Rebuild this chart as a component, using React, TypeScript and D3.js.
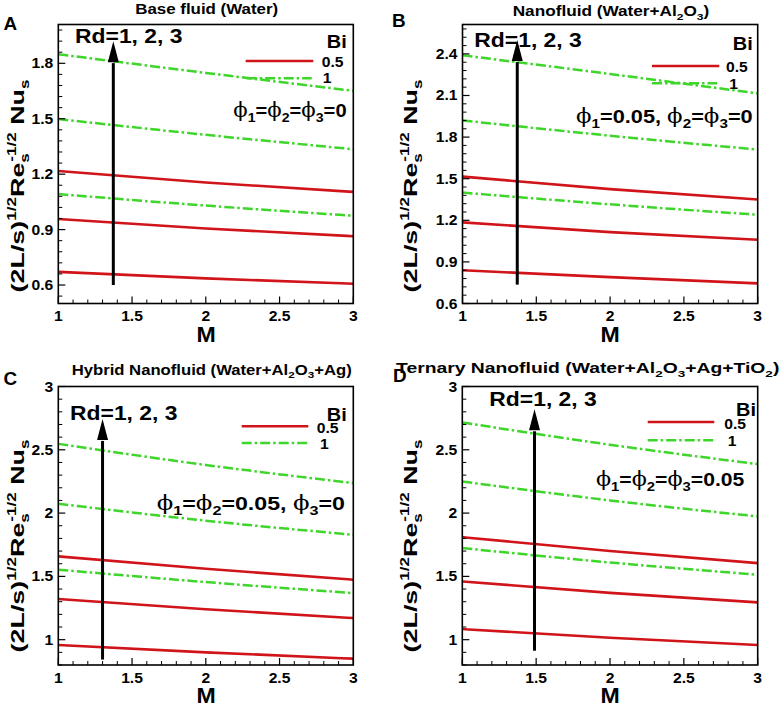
import React from 'react';
import * as d3 from 'd3';

// ---------- data ----------
const M_VALUES = [1, 2, 3];
const BI_LABELS = ['0.5', '1'];
const PANEL_LETTERS = ['A', 'B', 'C', 'D'];
const TITLES = [
  'Base fluid (Water)',
  'Nanofluid (Water+Al_2O_3)',
  'Hybrid Nanofluid (Water+Al_2O_3+Ag)',
  'Ternary Nanofluid (Water+Al_2O_3+Ag+TiO_2)',
];
const PHI_LABELS = ['φ_1=φ_2=φ_3=0', 'φ_1=0.05, φ_2=φ_3=0', 'φ_1=φ_2=0.05, φ_3=0', 'φ_1=φ_2=φ_3=0.05'];
const RD_LABEL = 'Rd=1, 2, 3';

// rows: Rd = 1, 2, 3 ; columns: M = 1, 2, 3
const A_BI05 = [[0.671, 0.636, 0.607], [0.957, 0.906, 0.864], [1.217, 1.155, 1.104]];
const A_BI1 = [[1.092, 1.03, 0.975], [1.498, 1.413, 1.335], [1.849, 1.748, 1.651]];
const B_BI05 = [[0.84, 0.79, 0.745], [1.185, 1.115, 1.06], [1.515, 1.425, 1.35]];
const B_BI1 = [[1.4, 1.315, 1.24], [1.92, 1.81, 1.71], [2.39, 2.255, 2.115]];
const C_BI05 = [[0.958, 0.9, 0.85], [1.321, 1.24, 1.171], [1.658, 1.56, 1.474]];
const C_BI1 = [[1.553, 1.455, 1.368], [2.074, 1.94, 1.829], [2.547, 2.38, 2.237]];
const D_BI05 = [[1.084, 1.015, 0.958], [1.46, 1.37, 1.295], [1.81, 1.7, 1.605]];
const D_BI1 = [[1.724, 1.61, 1.513], [2.25, 2.1, 1.974], [2.716, 2.54, 2.387]];

const X_TICKS = [1, 1.5, 2, 2.5, 3];
const Y_TICKS_A = [0.6, 0.9, 1.2, 1.5, 1.8];
const Y_TICKS_B = [0.6, 0.9, 1.2, 1.5, 1.8, 2.1, 2.4];
const Y_TICKS_CD = [1, 1.5, 2, 2.5, 3];
const Y_DOMAINS = [[0.5, 2.01], [0.6, 2.612], [0.8, 3], [0.8, 3]];

const ARROW_M = [1.373, 1.371, 1.3, 1.489];
const ARROW_FROM = [0.6, 0.736, 0.843, 0.913];
const ARROW_TO = [1.92, 2.5, 2.744, 2.82];

// ---------- layout ----------
const FONT = "'Liberation Sans', Arial, Helvetica, sans-serif";
const RED = '#d0141a';
const GREEN = '#3ed62a';
const DASH = '10,3,2.5,3';

const LAYOUTS = [
  { l: 58.3, r: 353.3, t: 24.5, b: 303.5, letter: [3.5, 30], title: [206.7, 14, 143], ylab: [24, 186], xlab: [206, 341.5],
    rd: [75, 43.3], bi: [346.7, 48.3], legR: [245.7, 313.3, 61], legG: [246.7, 311.7, 78.3], legRT: [321.7, 66.5], legGT: [322.7, 83.2],
    phi: [233.3, 117.3, 113.3], yTicks: Y_TICKS_A, yMinor: 0.06, yFmt: 1 },
  { l: 462.5, r: 757.7, t: 24.5, b: 303.5, letter: [392, 27], title: [611, 16, 196.6], ylab: [417, 186], xlab: [610, 341.5],
    rd: [474.3, 46.7], bi: [752.7, 50], legR: [652, 719.3, 66], legG: [652, 717, 83.3], legRT: [726, 71.5], legGT: [729.3, 88.5],
    phi: [576, 123.3, 176.7], yTicks: Y_TICKS_B, yMinor: 0.06, yFmt: 1 },
  { l: 58.3, r: 353.3, t: 386.5, b: 665, letter: [3.5, 384.7], title: [211.7, 374.7, 280], ylab: [24, 546], xlab: [206, 702.5],
    rd: [70, 419.7], bi: [346.7, 420.5], legR: [241.7, 308.3, 426.3], legG: [241.7, 308.3, 443], legRT: [316.7, 433], legGT: [320, 448.5],
    phi: [156.7, 509.7, 188.3], yTicks: Y_TICKS_CD, yMinor: 0.1, yFmt: 0 },
  { l: 462.3, r: 757.7, t: 386.5, b: 665, letter: [393, 382.3], title: [587.7, 373, 383.3], ylab: [417, 546], xlab: [610, 702.5],
    rd: [489.3, 405.7], bi: [756, 415.8], legR: [647.7, 714.3, 422], legG: [647.7, 714.3, 440.3], legRT: [724.3, 428.5], legGT: [727.7, 445.5],
    phi: [596, 486.3, 148.3], yTicks: Y_TICKS_CD, yMinor: 0.1, yFmt: 0 },
];

const PANEL_DATA = [
  [A_BI05, A_BI1],
  [B_BI05, B_BI1],
  [C_BI05, C_BI1],
  [D_BI05, D_BI1],
];

// rich text: '_' + char => subscript, 'φ' => serif phi
function rich(s: string, size: number, subShift: number) {
  const segs: { t: string; k: string }[] = [];
  for (let i = 0; i < s.length; i++) {
    const ch = s[i];
    if (ch === '_' && i + 1 < s.length) {
      segs.push({ t: s[i + 1], k: 'sub' });
      i++;
    } else if (ch === 'φ') {
      segs.push({ t: '\u03D5', k: 'phi' });
    } else {
      const last = segs[segs.length - 1];
      if (last && last.k === 'norm') last.t += ch;
      else segs.push({ t: ch, k: 'norm' });
    }
  }
  let cur = 0;
  return segs.map((sg, i) => {
    const off = sg.k === 'sub' ? subShift : 0;
    const dy = off - cur;
    cur = off;
    if (sg.k === 'sub')
      return <tspan key={i} dy={dy} fontSize={size * 0.7}>{sg.t}</tspan>;
    if (sg.k === 'phi')
      return <tspan key={i} dy={dy} fontFamily="'DejaVu Serif', 'Liberation Serif', serif" fontWeight="normal" fontSize={size * 1.05}>{sg.t}</tspan>;
    return <tspan key={i} dy={dy}>{sg.t}</tspan>;
  });
}

function STxt(props: { x: number; y: number; size: number; anchor?: string; sx?: number; children: any; weight?: string }) {
  const { x, y, size, anchor = 'start', sx = 1.12, children, weight = 'bold' } = props;
  return (
    <text transform={`translate(${x},${y}) scale(${sx},1)`} fontSize={size} fontWeight={weight} textAnchor={anchor} fontFamily={FONT} fill="#000">
      {children}
    </text>
  );
}

function Panel({ idx }: { idx: number }) {
  const L = LAYOUTS[idx];
  const [bi05, bi1] = PANEL_DATA[idx];
  const x = d3.scaleLinear().domain([1, 3]).range([L.l, L.r]);
  const y = d3.scaleLinear().domain(Y_DOMAINS[idx]).range([L.b, L.t]);
  const line = d3
    .line<[number, number]>()
    .x((d) => x(d[0]))
    .y((d) => y(d[1]))
    .curve(d3.curveMonotoneX);

  const series = (vals: number[]) => M_VALUES.map((m, i) => [m, vals[i]] as [number, number]);

  const [d0, d1] = Y_DOMAINS[idx];
  const majorStep = L.yTicks[1] - L.yTicks[0];
  const yMinorTicks: number[] = [];
  for (let k = Math.ceil(d0 / L.yMinor - 1e-6); k <= Math.floor(d1 / L.yMinor + 1e-6); k++) {
    const v = k * L.yMinor;
    const r = v / majorStep;
    if (Math.abs(r - Math.round(r)) < 1e-6) continue;
    yMinorTicks.push(v);
  }
  const xMinorTicks: number[] = [];
  for (let k = 11; k < 30; k++) {
    const v = k / 10;
    if (k % 5 === 0) continue;
    xMinorTicks.push(v);
  }

  const ax = x(ARROW_M[idx]);
  const aTip = y(ARROW_TO[idx]);
  const aBase = aTip + 21;
  const aFrom = y(ARROW_FROM[idx]);

  return (
    <g>
      {/* curves */}
      {bi1.map((vals, i) => (
        <path key={'g' + i} d={line(series(vals)) || ''} fill="none" stroke={GREEN} strokeWidth={2.5} strokeDasharray={DASH} />
      ))}
      {bi05.map((vals, i) => (
        <path key={'r' + i} d={line(series(vals)) || ''} fill="none" stroke={RED} strokeWidth={2.6} />
      ))}

      {/* ticks */}
      {X_TICKS.map((v) => (
        <line key={'xt' + v} x1={x(v)} x2={x(v)} y1={L.b} y2={L.b - 7} stroke="#000" strokeWidth={1.2} />
      ))}
      {xMinorTicks.map((v) => (
        <line key={'xm' + v} x1={x(v)} x2={x(v)} y1={L.b} y2={L.b - 4} stroke="#000" strokeWidth={1} />
      ))}
      {L.yTicks.map((v) => (
        <line key={'yt' + v} x1={L.l} x2={L.l + 7} y1={y(v)} y2={y(v)} stroke="#000" strokeWidth={1.2} />
      ))}
      {yMinorTicks.map((v) => (
        <line key={'ym' + v} x1={L.l} x2={L.l + 4} y1={y(v)} y2={y(v)} stroke="#000" strokeWidth={1} />
      ))}

      {/* frame */}
      <rect x={L.l} y={L.t} width={L.r - L.l} height={L.b - L.t} fill="none" stroke="#000" strokeWidth={1.6} />

      {/* tick labels */}
      {X_TICKS.map((v) => (
        <STxt key={'xl' + v} x={x(v)} y={L.b + 17.5} size={14} anchor="middle">
          {String(v)}
        </STxt>
      ))}
      {L.yTicks.map((v) => (
        <STxt key={'yl' + v} x={L.l - 5} y={y(v) + 5} size={14} anchor="end">
          {L.yFmt ? v.toFixed(1) : String(v)}
        </STxt>
      ))}

      {/* axis labels */}
      <STxt x={L.xlab[0]} y={L.xlab[1]} size={22} anchor="middle" sx={1.05}>
        M
      </STxt>
      <text
        transform={`translate(${L.ylab[0]},${L.ylab[1]}) rotate(-90)`}
        fontSize={19}
        fontWeight="bold"
        fontFamily={FONT}
        textAnchor="middle"
        textLength={213}
        lengthAdjust="spacingAndGlyphs"
      >
        (2L/s)
        <tspan dy={-8} fontSize={12}>1/2</tspan>
        <tspan dy={8}>Re</tspan>
        <tspan dy={5} fontSize={12}>s</tspan>
        <tspan dx={-6} dy={-13} fontSize={12}>-1/2</tspan>
        <tspan dy={8}> Nu</tspan>
        <tspan dy={5} fontSize={12}>s</tspan>
      </text>

      {/* panel letter + title */}
      <STxt x={L.letter[0]} y={L.letter[1]} size={18} sx={1.05}>
        {PANEL_LETTERS[idx]}
      </STxt>
      <text
        x={L.title[0]}
        y={L.title[1]}
        fontSize={14}
        fontWeight="bold"
        fontFamily={FONT}
        textAnchor="middle"
        textLength={L.title[2]}
        lengthAdjust="spacingAndGlyphs"
      >
        {rich(TITLES[idx], 14, 3.5)}
      </text>

      {/* legend */}
      <STxt x={L.bi[0]} y={L.bi[1]} size={19} anchor="end" sx={1.05}>
        Bi
      </STxt>
      <line x1={L.legR[0]} x2={L.legR[1]} y1={L.legR[2]} y2={L.legR[2]} stroke={RED} strokeWidth={2.6} />
      <line x1={L.legG[0]} x2={L.legG[1]} y1={L.legG[2]} y2={L.legG[2]} stroke={GREEN} strokeWidth={2.5} strokeDasharray={DASH} />
      <STxt x={L.legRT[0]} y={L.legRT[1]} size={14}>
        {BI_LABELS[0]}
      </STxt>
      <STxt x={L.legGT[0]} y={L.legGT[1]} size={14}>
        {BI_LABELS[1]}
      </STxt>

      {/* annotations */}
      <text x={L.rd[0]} y={L.rd[1]} fontSize={20} fontWeight="bold" fontFamily={FONT} textLength={107.5} lengthAdjust="spacingAndGlyphs">
        {RD_LABEL}
      </text>
      <text
        x={L.phi[0]}
        y={L.phi[1]}
        fontSize={19}
        fontWeight="bold"
        fontFamily={FONT}
        textLength={L.phi[2]}
        lengthAdjust="spacingAndGlyphs"
      >
        {rich(PHI_LABELS[idx], 19, 5)}
      </text>

      {/* arrow */}
      <line x1={ax} x2={ax} y1={aFrom} y2={aBase + 1} stroke="#000" strokeWidth={3} />
      <path d={`M${ax},${aTip} L${ax + 5.5},${aBase} L${ax - 5.5},${aBase} Z`} fill="#000" />
    </g>
  );
}

export default function App() {
  return (
    <svg width={782} height={706} style={{ position: 'absolute', left: 0, top: 0, background: '#fff' }}>
      <rect x={0} y={0} width={782} height={706} fill="#fff" />
      {[0, 1, 2, 3].map((i) => (
        <Panel key={i} idx={i} />
      ))}
    </svg>
  );
}
